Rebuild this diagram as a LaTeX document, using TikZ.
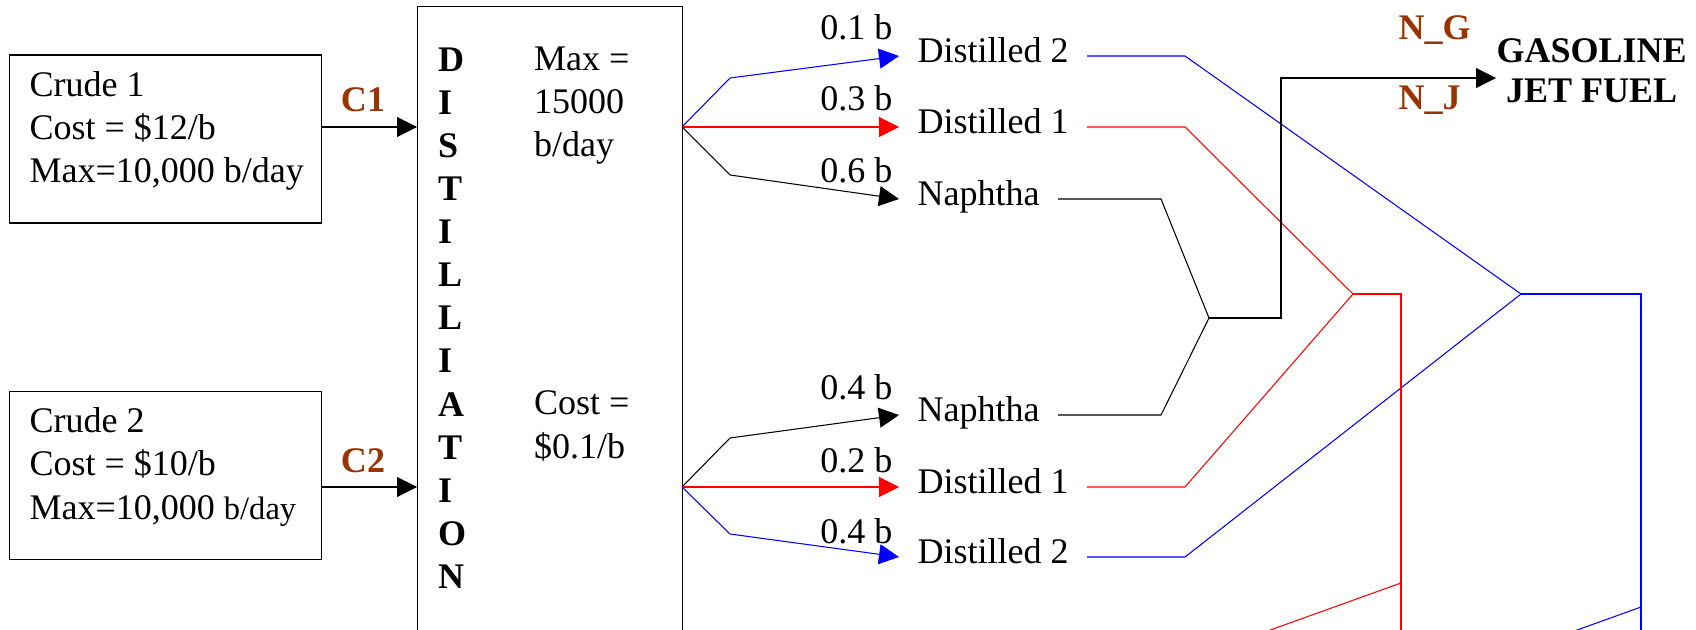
\documentclass[tikz,border=0pt]{standalone}
\usepackage{fontspec}
\setmainfont{Liberation Serif}
\usepackage{tikz}
\usetikzlibrary{arrows.meta}
\definecolor{azulflujo}{RGB}{0,0,255}
\definecolor{rojoflujo}{RGB}{255,0,0}
\definecolor{marron}{RGB}{153,51,0}
\newcommand{\tamtexto}{\fontsize{20.5}{24.5}\selectfont}

\begin{document}
\begin{tikzpicture}[
  font=\tamtexto,
  line width=0.6pt,
  caja/.style={draw, anchor=north west, inner sep=0pt},
  texto/.style={anchor=base west, align=left, inner sep=0pt},
  letra/.style={font=\tamtexto\bfseries, anchor=base west, inner sep=0pt},
  marca/.style={font=\tamtexto\bfseries, text=marron, anchor=base,
                inner sep=0pt},
  razon/.style={anchor=base east, inner sep=0pt},
  producto/.style={anchor=west, inner xsep=0.36cm, inner ysep=0pt,
                   text height=0.9em, text depth=0.14em},
  flecha/.style={-{Triangle[length=0.4cm, width=0.4cm]}},
]
\useasboundingbox (0,0) rectangle (33.92,12.58);
\clip (0,0) rectangle (33.92,12.58);
% --- Crudos (texto anclado en la ultima linea) -------------------------------
\node[caja, minimum width=6.24cm, minimum height=3.36cm] (crudoA)
  at (0.18,11.49) {};
\node[texto] (txtA) at (0.58,8.92)
  {Crude 1\\Cost = \$12/b\\Max=10,000 b/day};
\node[caja, minimum width=6.24cm, minimum height=3.35cm] (crudoB)
  at (0.18,4.76) {};
\node[texto] (txtB) at (0.58,2.20)
  {Crude 2\\Cost = \$10/b\\Max=10,000 {\fontsize{18.5}{24.5}\selectfont b/day}};
% --- Columna de destilacion --------------------------------------------------
\node[caja, minimum width=5.30cm, minimum height=14cm] (destil)
  at (8.34,12.46) {};
\foreach \l [count=\k from 0] in {D,I,S,T,I,L,L,I,A,T,I,O,N}
  \node[letra] (letra\k) at (8.75,{11.14-0.86*\k}) {\l};
\node[texto] (capac) at (10.67,9.44) {Max =\\15000\\b/day};
\node[texto] (costo) at (10.67,3.42) {Cost =\\\$0.1/b};
% --- Entradas C1 y C2 --------------------------------------------------------
\coordinate (entA) at (8.34,10.04);
\coordinate (entB) at (8.34,2.84);
\draw[flecha] (crudoA.east |- entA) -- (entA);
\draw[flecha] (crudoB.east |- entB) -- (entB);
\node[marca] (etqA) at (7.26,10.34) {C1};
\node[marca] (etqB) at (7.26,3.14) {C2};
% --- Cortes de la destilacion ------------------------------------------------
\coordinate (salA) at (13.64,10.04);
\coordinate (salB) at (13.64,2.84);
\node[producto] (dosA) at (17.98,11.46) {Distilled 2};
\node[producto] (unoA) at (17.98,10.04) {Distilled 1};
\node[producto] (naftaA) at (17.98,8.60) {Naphtha};
\node[producto] (naftaB) at (17.98,4.28) {Naphtha};
\node[producto] (unoB) at (17.98,2.84) {Distilled 1};
\node[producto] (dosB) at (17.98,1.44) {Distilled 2};
\draw[flecha, azulflujo] (salA) -- (14.60,11.02) -- (dosA.west);
\draw[flecha, rojoflujo] (salA) -- (unoA.west);
\draw[flecha] (salA) -- (14.60,9.08) -- (naftaA.west);
\draw[flecha] (salB) -- (14.60,3.82) -- (naftaB.west);
\draw[flecha, rojoflujo] (salB) -- (unoB.west);
\draw[flecha, azulflujo] (salB) -- (14.60,1.90) -- (dosB.west);
\node[razon] (rA1) at (17.86,11.78) {0.1 b};
\node[razon] (rA2) at (17.86,10.36) {0.3 b};
\node[razon] (rA3) at (17.86,8.92) {0.6 b};
\node[razon] (rB1) at (17.86,4.60) {0.4 b};
\node[razon] (rB2) at (17.86,3.14) {0.2 b};
\node[razon] (rB3) at (17.86,1.72) {0.4 b};
% --- Mezclas -----------------------------------------------------------------
\coordinate (uniNafta) at (24.18,6.22);
\coordinate (uniRojo) at (27.06,6.70);
\coordinate (uniAzul) at (30.42,6.70);
\draw (naftaA.east) -- (23.22,8.60) -- (uniNafta) -- (23.22,4.28)
  -- (naftaB.east);
\draw[rojoflujo] (unoA.east) -- (23.70,10.04) -- (uniRojo) -- (23.70,2.84)
  -- (unoB.east);
\draw[azulflujo] (dosA.east) -- (23.70,11.46) -- (uniAzul) -- (23.70,1.44)
  -- (dosB.east);
\draw[rojoflujo] (uniRojo) -| (28.02,-1);
\draw[azulflujo] (uniAzul) -| (32.82,-1);
\draw[rojoflujo] (24.07,-0.5) -- (28.02,0.92);
\draw[azulflujo] (30.21,-0.5) -- (32.82,0.44);
% --- Salida de nafta ---------------------------------------------------------
\coordinate (codoN) at (25.62,11.02);
\node[anchor=west, align=center, inner sep=0pt,
      font=\fontsize{20.5}{22.7}\selectfont\bfseries] (salida)
  at (29.92,11.16) {GASOLINE\\JET FUEL};
\draw[flecha] (uniNafta) -| (codoN) -- (salida.west |- codoN);
\node[marca, anchor=base west] (etqG) at (27.96,11.78) {N\_G};
\node[marca, anchor=base west] (etqJ) at (27.96,10.38) {N\_J};
\end{tikzpicture}
\end{document}
